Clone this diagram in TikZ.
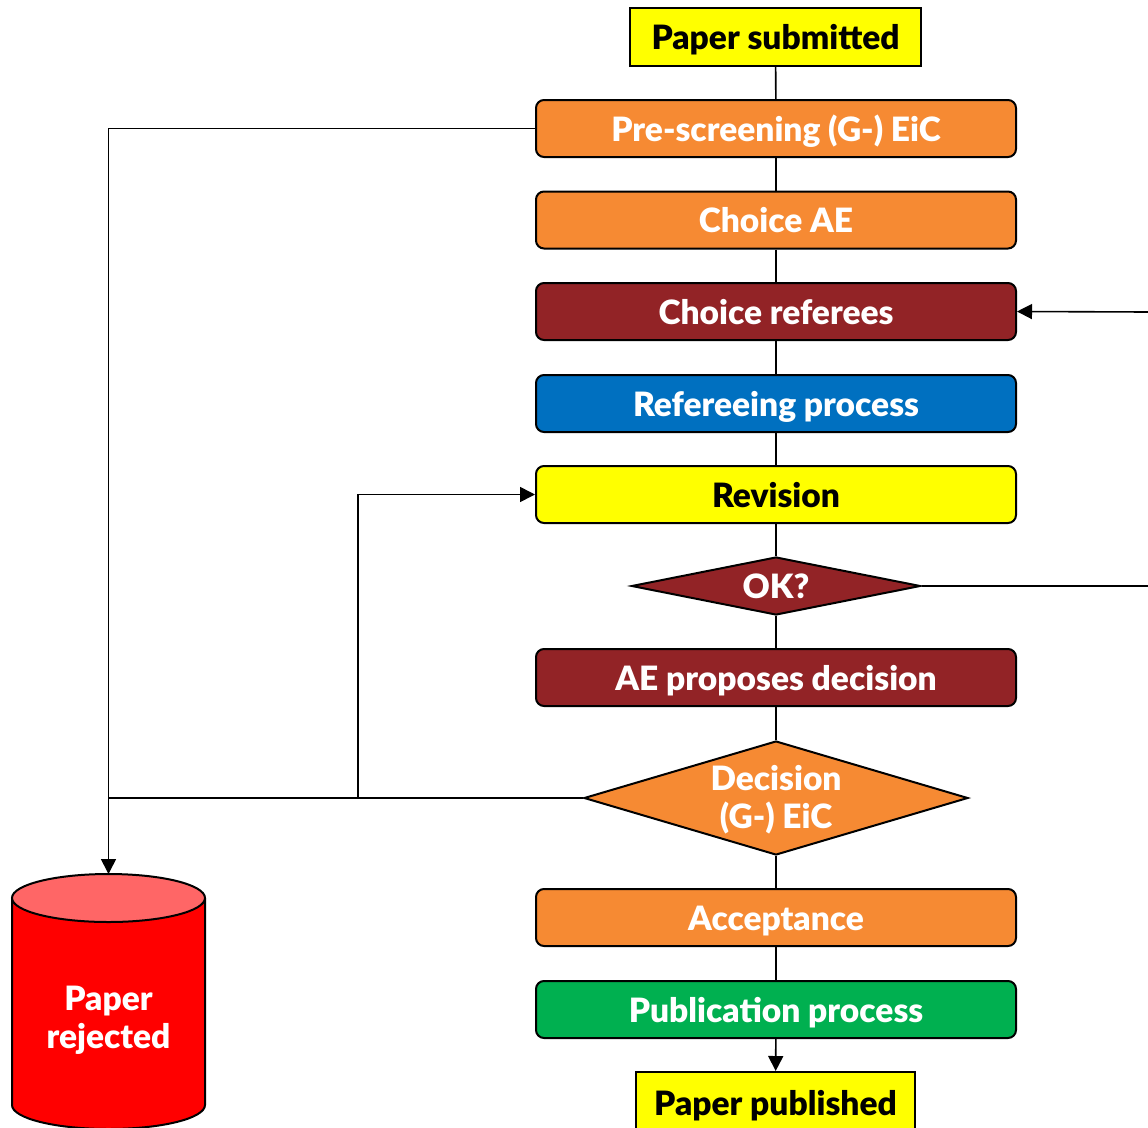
\documentclass[tikz,border=0pt]{standalone}
\usepackage{fontspec}
\setmainfont{Lato}[BoldFont={Lato Black}]
\usetikzlibrary{shapes.geometric,arrows.meta}
\definecolor{corange}{HTML}{F68A33}
\definecolor{cdred}{HTML}{922326}
\definecolor{cblue}{HTML}{0070C0}
\definecolor{cgreen}{HTML}{00B050}
\definecolor{cyellow}{HTML}{FFFF00}
\definecolor{cred}{HTML}{FF0000}
\definecolor{credtop}{HTML}{FF6666}
\tikzset{
  txt/.style={font=\fontsize{33.5}{38}\selectfont\bfseries},
  oneline/.style={text height=26pt, text depth=1pt},
  stepbox/.style={txt, oneline, draw=black, line width=2pt, rounded corners=8pt, minimum width=480pt, minimum height=57pt, inner sep=0pt, text=white},
  endbox/.style={txt, oneline, draw=black, line width=2pt, minimum height=58pt, inner sep=0pt, fill=cyellow, text=black},
  choice/.style={txt, draw=black, line width=2pt, diamond, aspect=3.4, inner sep=0pt, text=white, align=center},
  conn/.style={line width=1.6pt, draw=black},
  arr/.style={conn, -{Triangle[length=15pt,width=15pt]}}
}
\begin{document}
\begin{tikzpicture}[x=1pt,y=-1pt]
\clip (0,0) rectangle (1148,1127);
% nodes
\node[endbox, minimum width=291pt] (sub) at (775.5,37) {Paper submitted};
\node[stepbox, fill=corange] (pre) at (776,128.5) {Pre-screening (G-) EiC};
\node[stepbox, fill=corange] (ae) at (776,220) {Choice AE};
\node[stepbox, fill=cdred] (ref) at (776,311.5) {Choice referees};
\node[stepbox, fill=cblue] (proc) at (776,403.5) {Refereeing process};
\node[stepbox, fill=cyellow, text=black] (rev) at (776,494.5) {Revision};
\node[choice, oneline, fill=cdred, minimum width=289pt, minimum height=58pt] (ok) at (776,586) {OK?};
\node[stepbox, fill=cdred] (prop) at (776,677.5) {AE proposes decision};
\node[choice, fill=corange, minimum width=384pt, minimum height=114pt] (dec) at (776,798) {\raisebox{-10pt}[0pt][0pt]{\makebox[0pt]{\begin{tabular}{@{}c@{}}Decision\\(G-) EiC\end{tabular}}}};
\node[stepbox, fill=corange] (acc) at (776,917.5) {Acceptance};
\node[stepbox, fill=cgreen] (pub) at (776,1009.5) {Publication process};
\node[endbox, minimum width=279pt, minimum height=62pt] (publ) at (775.5,1103) {Paper published};
% cylinder (paper rejected)
\fill[cred] (12,898) -- (12,1105) arc[start angle=180, end angle=0, x radius=96.5, y radius=24] -- (205,898) -- cycle;
\draw[line width=2pt] (12,898) -- (12,1105) arc[start angle=180, end angle=0, x radius=96.5, y radius=24] -- (205,898);
\draw[line width=2pt, fill=credtop] (108.5,898) ellipse[x radius=96.5, y radius=24];
\node[txt, text=white, align=center] (rej) at (108.5,1020) {Paper\\rejected};
\coordinate (rejtop) at (108.5,874);
\coordinate (jrev) at (358,798);
\coordinate (rightok) at (1148,586);
\coordinate (rightref) at (1148,312);
% connectors
\draw[conn] (sub) -- (pre);
\draw[conn] (pre) -- (ae);
\draw[conn] (ae) -- (ref);
\draw[conn] (ref) -- (proc);
\draw[conn] (proc) -- (rev);
\draw[conn] (rev) -- (ok);
\draw[conn] (ok) -- (prop);
\draw[conn] (prop) -- (dec);
\draw[conn] (dec) -- (acc);
\draw[conn] (acc) -- (pub);
\draw[arr] (pub) -- (publ);
\draw[arr] (pre.west) -| (rejtop);
\draw[conn] (dec.west) -- (dec.west -| rejtop);
\draw[arr] (jrev) |- (rev.west);
\draw[conn] (ok.east) -- (rightok);
\draw[arr] (rightref) -- (ref.east);
\end{tikzpicture}
\end{document}
